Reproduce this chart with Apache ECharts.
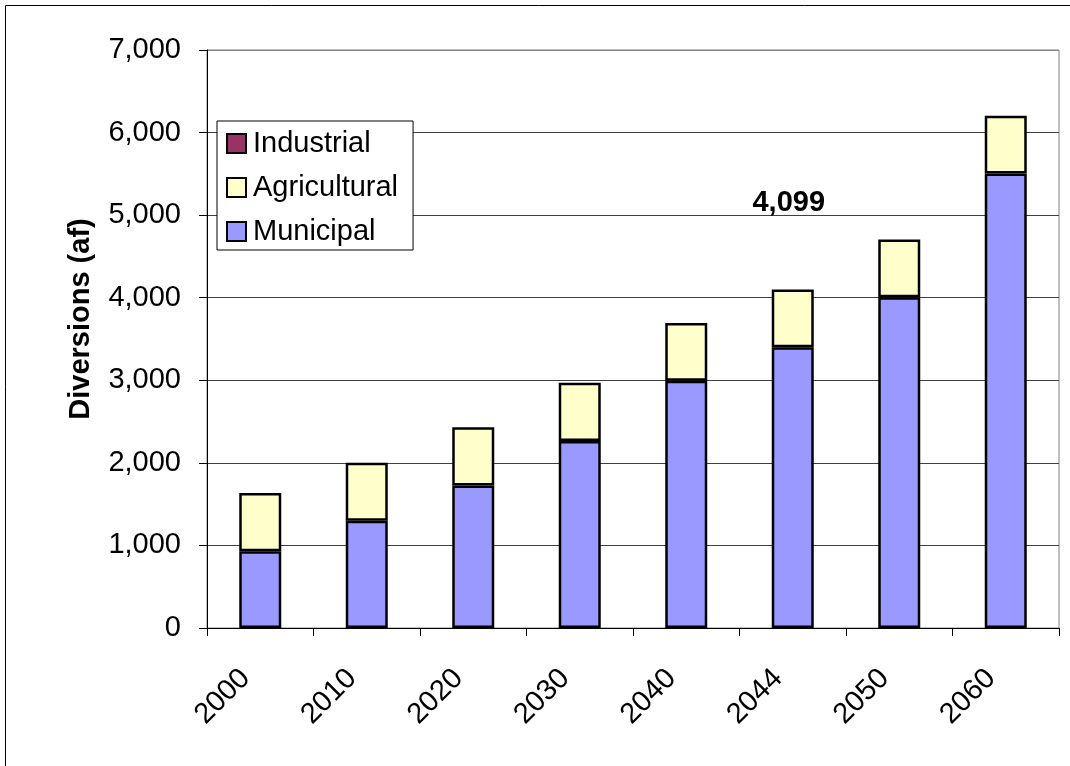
<!DOCTYPE html>
<html>
<head>
<meta charset="utf-8">
<script src="https://cdn.jsdelivr.net/npm/echarts@6/dist/echarts.min.js"></script>
<style>
  html, body { margin: 0; padding: 0; background: #fff; }
  #chart { width: 1070px; height: 766px; }
</style>
</head>
<body>
<div id="chart"></div>
<script>
// Water diversions by use, acre-feet
const years = ['2000', '2010', '2020', '2030', '2040', '2044', '2050', '2060'];
const municipal = [930, 1300, 1725, 2265, 2995, 3400, 4005, 5505];
const agricultural = [705, 700, 705, 705, 700, 699, 700, 700];
const industrial = [0, 0, 0, 0, 0, 0, 0, 0];
const yTicks = [0, 1000, 2000, 3000, 4000, 5000, 6000, 7000];
const labelledYear = '2044';

const FONT = '"Liberation Sans", Arial, sans-serif';
const fmt = v => v.toLocaleString('en-US');

const li = years.indexOf(labelledYear);
const labelTotal = municipal[li] + agricultural[li] + industrial[li];

const chart = echarts.init(document.getElementById('chart'), null, { renderer: 'canvas' });

const barStyle = (color, bw) => ({ color: color, borderColor: '#000', borderWidth: bw });

chart.setOption({
  animation: false,
  textStyle: { fontFamily: FONT },
  graphic: [{
    type: 'rect',
    shape: { x: 5.5, y: 5.5, width: 1200, height: 900 },
    style: { fill: null, stroke: '#000', lineWidth: 1 },
    silent: true, z: -10
  }],
  grid: {
    left: 207, right: 11, top: 50, bottom: 138,
    show: true, borderColor: '#808080', borderWidth: 1, backgroundColor: 'transparent'
  },
  legend: {
    orient: 'vertical',
    left: 217, top: 121,
    data: ['Industrial', 'Agricultural', 'Municipal'],
    backgroundColor: '#fff',
    borderColor: '#000', borderWidth: 1,
    padding: [8, 15, 4, 9],
    itemWidth: 19, itemHeight: 19, itemGap: 15,
    icon: 'rect',
    textStyle: { fontFamily: FONT, fontSize: 29, color: '#000', padding: [0, 0, 0, 2] },
    itemStyle: { borderColor: '#000', borderWidth: 2 }
  },
  xAxis: {
    type: 'category',
    data: years,
    axisLine: { lineStyle: { color: '#000', width: 1 } },
    axisTick: { show: true, alignWithLabel: false, length: 8, lineStyle: { color: '#000' } },
    axisLabel: { rotate: 45, margin: 31, padding: [0, 21, 0, 0], fontFamily: FONT, fontSize: 29, color: '#000' },
    splitLine: { show: false }
  },
  yAxis: {
    type: 'value',
    min: yTicks[0], max: yTicks[yTicks.length - 1], interval: 1000,
    name: 'Diversions (af)',
    nameLocation: 'middle',
    nameGap: 112,
    nameTextStyle: { fontFamily: FONT, fontSize: 29, fontWeight: 'bold', color: '#000', padding: [0, 0, 0, 40] },
    axisLine: { show: true, lineStyle: { color: '#000', width: 1 } },
    axisTick: { show: true, length: 8, lineStyle: { color: '#000' } },
    axisLabel: { margin: 26, fontFamily: FONT, fontSize: 29, color: '#000', formatter: v => fmt(v) },
    splitLine: { show: true, lineStyle: { color: ['#404040', '#404040', '#404040', '#404040', '#404040', '#404040', '#404040', '#808080'], width: 1 } }
  },
  series: [
    {
      name: 'Municipal', type: 'bar', stack: 'total', data: municipal,
      barWidth: 42, itemStyle: barStyle('#9999FF', 2.5)
    },
    {
      name: 'Agricultural', type: 'bar', stack: 'total',
      data: agricultural.map((v, i) => i === li ? {
        value: v,
        label: {
          show: true, position: 'top', distance: 72, offset: [-4, 0],
          formatter: () => fmt(labelTotal),
          fontFamily: FONT, fontSize: 29, fontWeight: 'bold', color: '#000'
        }
      } : v),
      barWidth: 42, itemStyle: barStyle('#FFFFCC', 2.5)
    },
    {
      name: 'Industrial', type: 'bar', stack: 'total', data: industrial,
      barWidth: 42, itemStyle: barStyle('#993366', 0)
    }
  ]
});
</script>
</body>
</html>
